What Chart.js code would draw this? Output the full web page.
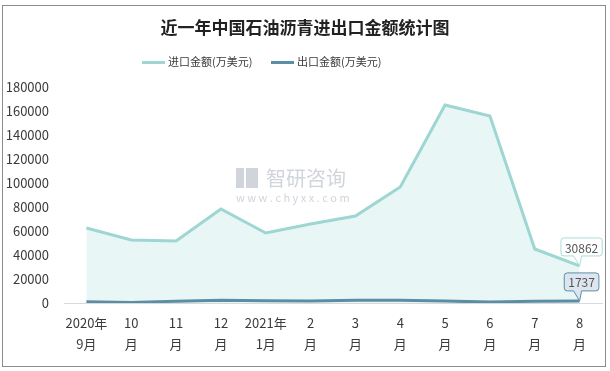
<!DOCTYPE html>
<html>
<head>
<meta charset="utf-8">
<script src="https://cdn.jsdelivr.net/npm/chart.js@4/dist/chart.umd.min.js"></script>
<style>
  html, body { margin: 0; padding: 0; background: #fff; }
  #frame { position: absolute; left: 2px; top: 5px; width: 604px; height: 362px; border: 1px solid #8c8c8c; box-sizing: border-box; }
  #wrap { position: absolute; left: 0; top: 0; width: 610px; height: 371px; }
</style>
</head>
<body>
<div id="frame"></div>
<div id="wrap"><canvas id="chart" width="610" height="371"></canvas></div>
<script>
// --- Data ---
const months = [
  ['2020年', '9月'], ['10', '月'], ['11', '月'], ['12', '月'],
  ['2021年', '1月'], ['2', '月'], ['3', '月'], ['4', '月'],
  ['5', '月'], ['6', '月'], ['7', '月'], ['8', '月']
];
const importValues = [62500, 52500, 51700, 78300, 58300, 65800, 72500, 96700, 165000, 155800, 45000, 30862];
const exportValues = [1000, 500, 1500, 2300, 1800, 1700, 2200, 2200, 1600, 800, 1500, 1737];
const seriesNames = ['进口金额(万美元)', '出口金额(万美元)'];
const yTicks = [0, 20000, 40000, 60000, 80000, 100000, 120000, 140000, 160000, 180000];
const chartTitle = '近一年中国石油沥青进出口金额统计图';

const IMPORT_COLOR = '#9dd6d2';
const EXPORT_COLOR = '#5a8ea6';
const TEXT = '#3a3a3a';
const CJK = '"Noto Sans CJK SC", "Noto Sans", sans-serif';

// --- Title + legend drawn by hand so they sit where the reference has them ---
const header = {
  id: 'header',
  afterDraw(chart) {
    const ctx = chart.ctx;
    ctx.save();
    ctx.fillStyle = '#222';
    ctx.font = 'bold 17px ' + CJK;
    ctx.textAlign = 'center';
    ctx.textBaseline = 'middle';
    ctx.fillText(chartTitle, 261 + 44, 28);

    ctx.font = '11px ' + CJK;
    ctx.textAlign = 'left';
    const items = [[142, IMPORT_COLOR], [271, EXPORT_COLOR]];
    chart.data.datasets.forEach((ds, i) => {
      const x = items[i][0];
      ctx.fillStyle = items[i][1];
      ctx.fillRect(x, 61, 23, 3);
      ctx.fillStyle = TEXT;
      ctx.fillText(ds.label, x + 26, 62);
    });
    ctx.restore();
  }
};

// --- Watermark ---
const watermark = {
  id: 'watermark',
  beforeDatasetsDraw(chart) {
    const ctx = chart.ctx;
    ctx.save();
    ctx.fillStyle = 'rgba(150,160,175,0.45)';
    ctx.fillRect(236, 168, 8, 20);
    ctx.fillRect(246, 168, 12, 20);
    ctx.font = '20px ' + CJK;
    ctx.textBaseline = 'middle';
    ctx.textAlign = 'left';
    ctx.fillText('智研咨询', 266, 178);
    ctx.font = '11px ' + CJK;
    ctx.fillText('w w w . c h y x x . c o m', 236, 198);
    ctx.restore();
  }
};

// --- Last point callouts ---
function callout(ctx, x, y, text, fill, stroke) {
  ctx.font = '12px ' + CJK;
  const w = ctx.measureText(text).width + 8;
  const h = 18;
  const left = x - w / 2 + 2;
  const top = y - h - 10;
  ctx.beginPath();
  ctx.moveTo(left + 3, top);
  ctx.lineTo(left + w - 3, top);
  ctx.quadraticCurveTo(left + w, top, left + w, top + 3);
  ctx.lineTo(left + w, top + h - 3);
  ctx.quadraticCurveTo(left + w, top + h, left + w - 3, top + h);
  ctx.lineTo(x + 2, top + h);
  ctx.lineTo(x, y);
  ctx.lineTo(x - 6, top + h);
  ctx.lineTo(left + 3, top + h);
  ctx.quadraticCurveTo(left, top + h, left, top + h - 3);
  ctx.lineTo(left, top + 3);
  ctx.quadraticCurveTo(left, top, left + 3, top);
  ctx.closePath();
  ctx.fillStyle = fill;
  ctx.fill();
  ctx.strokeStyle = stroke;
  ctx.lineWidth = 1;
  ctx.stroke();
  ctx.fillStyle = '#555';
  ctx.textAlign = 'center';
  ctx.textBaseline = 'middle';
  ctx.fillText(text, left + w / 2, top + h / 2 + 1);
}

const lastLabels = {
  id: 'lastLabels',
  afterDatasetsDraw(chart) {
    const ctx = chart.ctx;
    ctx.save();
    const styles = [['#ffffff', '#a9dcd8'], ['#dde6ee', EXPORT_COLOR]];
    chart.data.datasets.forEach((ds, i) => {
      const meta = chart.getDatasetMeta(i);
      const pt = meta.data[meta.data.length - 1];
      callout(ctx, pt.x, pt.y, String(ds.data[ds.data.length - 1]), styles[i][0], styles[i][1]);
    });
    ctx.restore();
  }
};

// --- Chart ---
new Chart(document.getElementById('chart'), {
  type: 'line',
  data: {
    labels: months,
    datasets: [
      {
        label: seriesNames[0],
        data: importValues,
        borderColor: IMPORT_COLOR,
        backgroundColor: 'rgba(226,243,243,0.75)',
        borderWidth: 3,
        fill: 'origin',
        tension: 0,
        pointRadius: 0,
        order: 2
      },
      {
        label: seriesNames[1],
        data: exportValues,
        borderColor: EXPORT_COLOR,
        backgroundColor: EXPORT_COLOR,
        borderWidth: 3,
        fill: false,
        tension: 0,
        pointRadius: 0,
        order: 1
      }
    ]
  },
  options: {
    responsive: false,
    animation: false,
    layout: { padding: { left: 4, right: 8, top: 87, bottom: 14 } },
    plugins: {
      tooltip: { enabled: false },
      title: { display: false },
      legend: { display: false }
    },
    scales: {
      x: {
        offset: true,
        grid: { display: false, drawTicks: false },
        border: { color: '#d9d9d9' },
        afterFit(axis) { axis.height = 54; },
        ticks: {
          color: TEXT,
          font: { family: CJK, size: 13, lineHeight: 1.6 },
          padding: 10,
          maxRotation: 0,
          autoSkip: false
        }
      },
      y: {
        min: 0,
        max: 180000,
        afterBuildTicks(axis) { axis.ticks = yTicks.map(v => ({ value: v })); },
        afterFit(axis) { axis.width = 60; },
        grid: { display: false, drawTicks: false },
        border: { display: false },
        ticks: {
          color: TEXT,
          font: { family: CJK, size: 13 },
          padding: 15,
          callback: v => String(v)
        }
      }
    }
  },
  plugins: [watermark, lastLabels, header]
});
</script>
</body>
</html>
